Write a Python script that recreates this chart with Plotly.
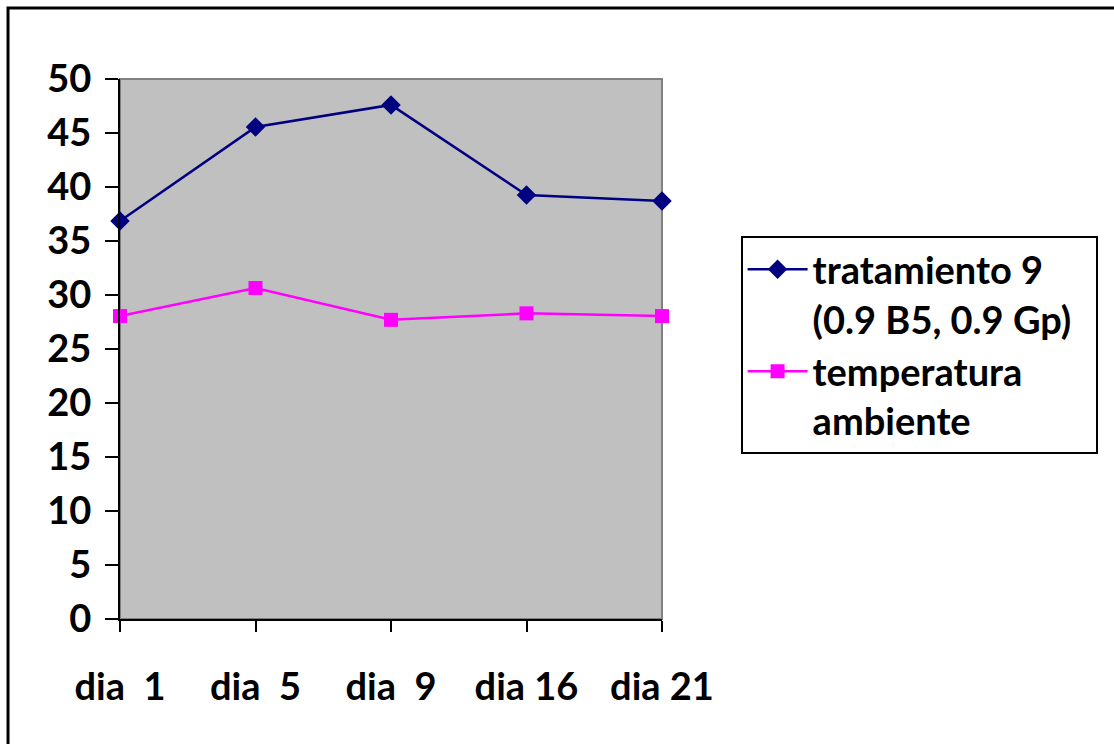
import plotly.graph_objects as go

days = ["dia  1", "dia  5", "dia  9", "dia 16", "dia 21"]
tratamiento_9 = [36.85, 45.55, 47.6, 39.25, 38.7]
temperatura_ambiente = [28.05, 30.65, 27.7, 28.3, 28.05]
y_ticks = [0, 5, 10, 15, 20, 25, 30, 35, 40, 45, 50]

FONT = "Lato"
SIZE = 38

fig = go.Figure()
fig.add_trace(go.Scatter(
    x=days, y=tratamiento_9, mode="lines+markers",
    name="tratamiento 9<br>(0.9 B5, 0.9 Gp)&nbsp;&nbsp;",
    line=dict(color="#000080", width=2.5),
    marker=dict(symbol="diamond", size=15, color="#000080"),
    cliponaxis=False,
))
fig.add_trace(go.Scatter(
    x=days, y=temperatura_ambiente, mode="lines+markers",
    name="temperatura<br>ambiente",
    line=dict(color="#FF00FF", width=2.5),
    marker=dict(symbol="square", size=14, color="#FF00FF"),
    cliponaxis=False,
))

fig.update_layout(
    width=1114, height=744,
    margin=dict(l=120, r=452, t=79, b=125),
    paper_bgcolor="white",
    plot_bgcolor="#C0C0C0",
    font=dict(family=FONT, size=SIZE, color="black"),
    showlegend=True,
    legend=dict(
        x=1.145, y=0.709, xanchor="left", yanchor="top",
        bordercolor="black", borderwidth=2, bgcolor="white",
        font=dict(family=FONT, size=SIZE, color="black", weight="bold"),
        itemwidth=60, tracegroupgap=17, valign="top",
    ),
    xaxis=dict(
        type="category", range=[0, 4], showgrid=False, zeroline=False,
        showline=True, linecolor="black", linewidth=2,
        ticks="outside", ticklen=11, tickwidth=2, tickcolor="black",
        tickfont=dict(family=FONT, size=SIZE, weight="bold"),
        ticklabelstandoff=22,
    ),
    yaxis=dict(
        range=[0, 50], tickvals=y_ticks, showgrid=False, zeroline=False,
        showline=True, linecolor="black", linewidth=2,
        ticks="outside", ticklen=13, tickwidth=2, tickcolor="black",
        tickfont=dict(family=FONT, size=SIZE, weight="bold"),
        ticklabelstandoff=6,
    ),
    shapes=[
        # grey frame of the plot area (top and right sides show)
        dict(type="rect", xref="paper", yref="paper", x0=0, x1=1, y0=0, y1=1,
             line=dict(color="#808080", width=2), layer="below"),
        # outer chart border
        dict(type="rect", xref="paper", yref="paper",
             x0=-0.2066, x1=1.86, y0=-0.27, y1=1.1315,
             line=dict(color="black", width=3)),
    ],
)

fig.write_html("out.html")
